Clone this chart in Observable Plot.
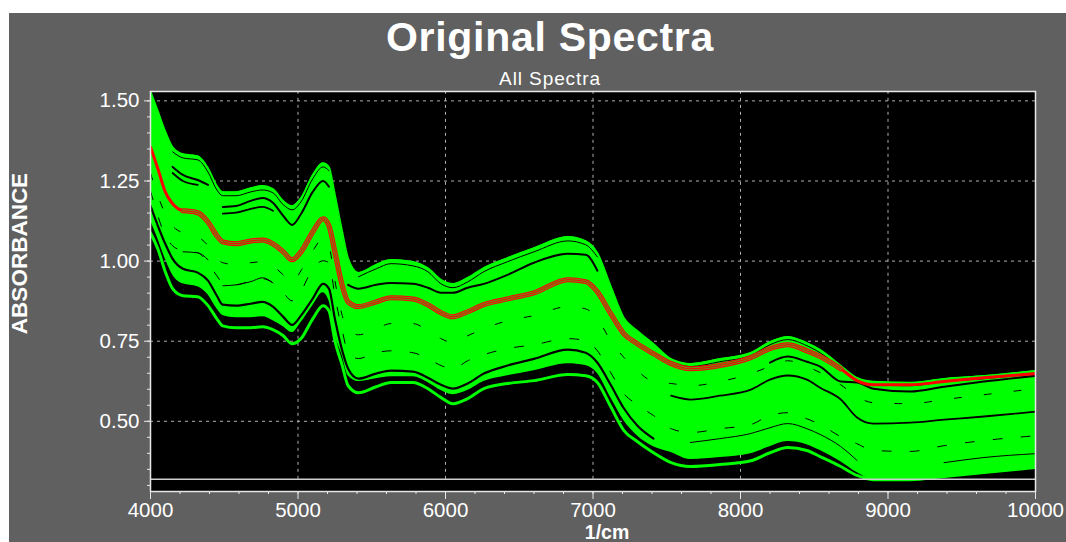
<!DOCTYPE html>
<html>
<head>
<meta charset="utf-8">
<script src="https://cdn.jsdelivr.net/npm/d3@7"></script>
<script src="https://cdn.jsdelivr.net/npm/@observablehq/plot@0.6"></script>
<style>
  html, body { margin: 0; padding: 0; background: #fff; overflow: hidden; }
  #panel { position: absolute; left: 9px; top: 13px; width: 1057px; height: 529px; background: #606060; color: #fff;
           font-family: "Liberation Sans", Arial, sans-serif; }
  #head { height: 75px; padding-left: 25px; box-sizing: border-box; text-align: center; overflow: visible; }
  #title { font-size: 41px; font-weight: bold; line-height: 49px; letter-spacing: 0.7px; }
  #subtitle { font-size: 19px; line-height: 20px; margin-top: 7px; letter-spacing: 0.9px; }
  svg { display: block; }
</style>
</head>
<body>
<div id="panel">
  <div id="head"><div id="title">Original Spectra</div><div id="subtitle">All Spectra</div></div>
  <div id="chart"></div>
</div>
<script>
const wavenumbers = [4000,4050,4100,4150,4220,4320,4390,4450,4490,4580,4680,4760,4830,4900,4960,5020,5100,5170,5210,5250,5300,5340,5410,5530,5630,5780,5880,5970,6050,6150,6260,6420,6600,6830,6950,7030,7120,7210,7300,7410,7530,7660,7860,8070,8200,8320,8450,8540,8680,8790,8900,9150,9380,9650,10000];

const upperEnvelope = [1.531,1.469,1.406,1.356,1.334,1.328,1.291,1.235,1.216,1.216,1.228,1.235,1.225,1.188,1.172,1.197,1.269,1.306,1.294,1.210,1.094,1.010,0.964,0.989,1.004,0.998,0.979,0.942,0.929,0.948,0.979,1.010,1.041,1.076,1.063,1.026,0.923,0.823,0.783,0.742,0.695,0.680,0.695,0.714,0.748,0.764,0.745,0.724,0.674,0.636,0.624,0.621,0.633,0.642,0.658];
const massLowerEdge = [1.126,1.070,1.007,0.957,0.929,0.920,0.895,0.851,0.830,0.823,0.823,0.826,0.814,0.795,0.777,0.808,0.861,0.901,0.876,0.773,0.705,0.642,0.624,0.633,0.639,0.639,0.621,0.596,0.583,0.596,0.624,0.642,0.658,0.680,0.674,0.649,0.574,0.502,0.455,0.421,0.403,0.381,0.387,0.399,0.421,0.437,0.427,0.409,0.374,0.340,0.318,0.318,0.328,0.340,0.356];
const lowestSpectrum = [1.088,1.038,0.967,0.914,0.892,0.889,0.861,0.820,0.798,0.792,0.792,0.795,0.786,0.767,0.742,0.758,0.820,0.861,0.845,0.752,0.674,0.611,0.589,0.608,0.621,0.621,0.602,0.574,0.555,0.571,0.602,0.618,0.627,0.646,0.642,0.621,0.546,0.471,0.437,0.402,0.371,0.359,0.365,0.377,0.402,0.418,0.409,0.390,0.359,0.331,0.318,0.318,0.328,0.340,0.356];
const selectedSpectrum = [1.356,1.288,1.216,1.179,1.157,1.151,1.122,1.079,1.060,1.054,1.063,1.066,1.054,1.029,1.004,1.029,1.091,1.132,1.110,1.029,0.923,0.873,0.858,0.873,0.886,0.882,0.864,0.839,0.826,0.842,0.864,0.882,0.901,0.942,0.936,0.904,0.836,0.773,0.742,0.711,0.680,0.664,0.674,0.699,0.727,0.739,0.720,0.702,0.664,0.627,0.614,0.614,0.624,0.636,0.649];

const gapA = [null,null,null,1.341,1.322,1.316,1.278,1.222,1.204,1.204,1.216,1.222,1.213,1.176,1.160,1.185,1.257,1.294,1.282,null,null,null,0.951,0.976,0.992,0.985,0.967,0.929,0.917,0.935,0.967,0.998,1.029,1.063,1.051,1.013,null,null,null,null,0.686,0.671,0.686,0.705,0.739,0.755,0.736,0.714,0.664,0.627,0.614,0.611,0.624,0.633,0.649];
const gapB = [null,null,null,1.294,1.269,1.253,1.238,null,1.169,1.172,1.188,1.197,1.182,1.141,1.113,1.147,1.216,1.250,1.232,null,null,0.926,0.914,0.926,0.932,0.929,0.917,0.901,0.901,0.917,0.929,0.957,0.995,1.023,1.020,0.970,null,null,null,null,null,null,null,null,0.683,0.702,0.686,0.671,0.624,0.621,0.602,0.593,0.608,0.624,0.642];
const gapC = [null,null,null,1.275,1.250,1.238,null,null,1.148,1.151,1.163,1.169,1.157,null,null,null,null,null,null,null,null,null,null,null,null,null,null,null,null,null,null,null,null,null,null,null,null,null,null,null,0.580,0.568,0.580,0.599,0.630,0.643,0.630,0.605,0.568,0.512,0.493,0.496,0.505,0.515,0.530];
const gapD = [null,null,null,null,1.029,1.026,1.004,null,0.923,0.926,0.936,0.948,0.932,null,null,null,null,null,null,null,null,null,null,null,null,null,null,null,null,null,null,null,null,null,null,null,null,null,null,null,null,0.434,0.446,0.462,0.480,0.493,0.477,0.459,0.421,0.378,null,null,0.371,0.387,0.399];
const gapE = [1.172,1.110,1.054,1.007,0.976,0.964,0.939,0.892,0.864,0.861,0.867,0.873,0.858,0.826,0.801,0.830,0.883,0.929,0.914,0.820,0.720,0.664,0.633,0.649,0.658,0.655,0.636,0.614,0.602,0.618,0.649,0.674,0.695,0.724,0.714,0.683,0.614,0.540,0.487,0.446,null,null,null,null,null,null,null,null,null,null,null,null,null,null,null];
const speckleA = [1.275,1.204,1.148,1.110,1.088,1.076,1.048,1.007,0.995,0.989,0.995,0.998,0.985,0.957,0.932,0.970,1.032,1.070,1.048,0.939,0.830,0.783,0.770,0.789,0.805,0.805,0.783,0.758,0.745,0.767,0.789,0.814,0.830,0.858,0.851,0.820,0.752,0.699,0.658,0.624,0.618,0.611,0.624,0.649,0.671,0.689,0.671,0.652,0.614,0.577,0.558,0.555,0.568,0.583,0.602];
const speckleB = [1.219,1.141,1.079,1.048,1.032,1.026,0.995,0.954,0.932,0.926,0.939,0.945,0.932,0.901,0.876,0.907,0.976,1.001,0.995,0.892,0.783,0.714,0.696,0.714,0.720,0.714,0.696,0.674,0.664,0.689,0.708,0.727,0.739,0.758,0.752,0.720,0.652,0.586,0.552,0.518,0.477,0.465,0.477,0.490,0.518,0.527,0.508,0.490,0.452,0.430,0.409,0.406,0.424,0.440,0.455];

const baselineAbsorbance = 0.319;
const xTicks = [4000,5000,6000,7000,8000,9000,10000];
const xGridTicks = [5000,6000,7000,8000,9000];
const yTicks = [0.50,0.75,1.00,1.25,1.50];
const xMinorTicks = d3.range(4000,10001,200);
const yMinorTicks = [0.30,0.35,0.40,0.45,0.50,0.55,0.60,0.65,0.70,0.75,0.80,0.85,0.90,0.95,1.00,1.05,1.10,1.15,1.20,1.25,1.30,1.35,1.40,1.45,1.50];

const rows = wavenumbers.map((wn,i)=>({wn, top:upperEnvelope[i], edge:massLowerEdge[i], low:lowestSpectrum[i], red:selectedSpectrum[i],
  a:gapA[i]??NaN, b:gapB[i]??NaN, c:gapC[i]??NaN, d:gapD[i]??NaN, e:gapE[i]??NaN, sa:speckleA[i], sb:speckleB[i]}));

const curve = "monotone-x";
const line = (y,stroke,strokeWidth,extra={}) => Plot.line(rows,{x:"wn",y,stroke,strokeWidth,curve,clip:true,...extra});
const bandRange = d => d.wn>=4220 && d.wn<=8680;

const chart = Plot.plot({
  width: 1057, height: 454,
  marginLeft: 141, marginRight: 31, marginTop: 3, marginBottom: 51,
  style: {background:"transparent", color:"#fff", fontFamily:"'Liberation Sans', Arial, sans-serif", overflow:"visible"},
  x: {domain:[4000,10000]},
  y: {domain:[0.281,1.5293]},
  marks: [
    Plot.frame({fill:"#000", stroke:null}),
    Plot.ruleY(yTicks,{stroke:"#b0b0b0", strokeWidth:1, strokeDasharray:"3,4"}),
    Plot.ruleX(xGridTicks,{y1:baselineAbsorbance, y2:1.5293, stroke:"#b0b0b0", strokeWidth:1, strokeDasharray:"3,4"}),
    Plot.areaY(rows,{x:"wn",y1:"edge",y2:"top",fill:"#00ff00",curve,clip:true}),
    line("top","#00ff00",1.5),
    line("low","#00ff00",3),
    line("a","#000",1),
    line("b","#000",2),
    line("c","#000",1.8),
    line("d","#000",1),
    line("e","#000",2.2),
    line("sa","#000",1,{strokeDasharray:"7,23"}),
    line("sb","#000",1,{strokeDasharray:"9,19"}),
    line("red","#ff0000",3),
    line("red","#ff0000",5,{filter:bandRange}),
    line("red","#6f8a10",3,{filter:bandRange}),
    line("red","#ff0000",1,{filter:bandRange}),
    Plot.ruleY([baselineAbsorbance],{stroke:"#cfcfcf",strokeWidth:1.5}),
    Plot.frame({stroke:"#e8e8e8",strokeWidth:1.5}),
    Plot.axisX(xTicks,{anchor:"bottom",tickSize:8,tickPadding:3,fontSize:20.5,tickFormat:d=>String(d),label:null,stroke:"#e8e8e8"}),
    Plot.axisX(xMinorTicks,{anchor:"bottom",tickSize:3,tickFormat:()=>"",label:null,stroke:"#e8e8e8"}),
    Plot.axisY(yTicks,{anchor:"left",tickSize:6,tickPadding:5,fontSize:20.5,tickFormat:d3.format(".2f"),label:null,stroke:"#e8e8e8"}),
    Plot.axisY(yMinorTicks,{anchor:"left",tickSize:3,tickFormat:()=>"",label:null,stroke:"#e8e8e8"}),
    Plot.text(["1/cm"],{frameAnchor:"bottom",dx:14,dy:47,fontSize:19.5,fontWeight:"bold",fill:"#fff"}),
    Plot.text(["ABSORBANCE"],{frameAnchor:"left",textAnchor:"middle",dx:-131,dy:-38,rotate:-90,fontSize:22.5,fontWeight:"bold",fill:"#fff"})
  ]
});
document.getElementById("chart").appendChild(chart);
</script>
</body>
</html>
